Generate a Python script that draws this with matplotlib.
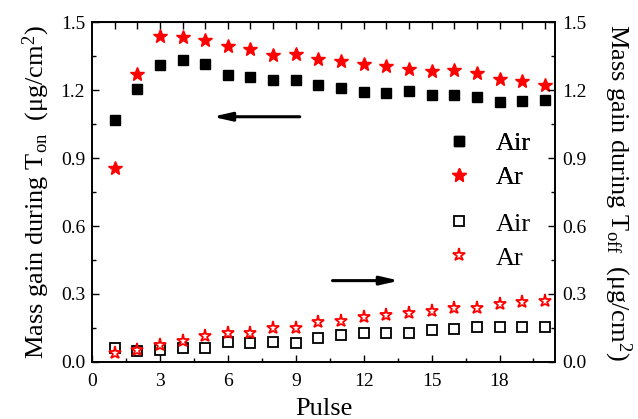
import matplotlib
matplotlib.use("Agg")
import matplotlib.pyplot as plt

plt.rcParams['font.family'] = ['Liberation Serif', 'DejaVu Serif']
plt.rcParams['mathtext.fontset'] = 'custom'
plt.rcParams['mathtext.rm'] = 'Liberation Serif'
plt.rcParams['mathtext.it'] = 'Liberation Serif:italic'

pulse = list(range(1, 21))
air_on = [1.068, 1.203, 1.309, 1.331, 1.316, 1.265, 1.256, 1.244, 1.244, 1.222,
          1.207, 1.190, 1.186, 1.194, 1.180, 1.177, 1.168, 1.149, 1.153, 1.156]
ar_on = [0.854, 1.271, 1.438, 1.435, 1.421, 1.394, 1.379, 1.356, 1.359, 1.335,
         1.330, 1.313, 1.307, 1.293, 1.285, 1.288, 1.276, 1.247, 1.241, 1.222]
air_off = [0.060, 0.050, 0.053, 0.060, 0.063, 0.090, 0.085, 0.090, 0.085, 0.104,
           0.119, 0.129, 0.126, 0.126, 0.141, 0.146, 0.156, 0.156, 0.156, 0.156]
ar_off = [0.038, 0.053, 0.073, 0.094, 0.115, 0.126, 0.126, 0.150, 0.150, 0.175,
          0.181, 0.197, 0.206, 0.218, 0.224, 0.237, 0.238, 0.256, 0.265, 0.270]

xticks = [0, 3, 6, 9, 12, 15, 18]
yticks = [0.0, 0.3, 0.6, 0.9, 1.2, 1.5]

fig = plt.figure(figsize=(6.38, 4.19), dpi=100)
ax = fig.add_axes([92/638, 1 - 362/419, (555-92)/638, (362-22)/419])
ax2 = ax.twinx()

h1, = ax.plot(pulse, air_on, 's', color='black', ms=7.2, mec='black', label='Air')
h2, = ax.plot(pulse, ar_on, '*', color='red', ms=10, mec='red', label='Ar')
h3, = ax2.plot(pulse, air_off, 's', mfc='white', mec='black', ms=6.5, mew=1.3, label='Air')
h4, = ax2.plot(pulse, ar_off, '*', mfc='white', mec='red', ms=9.5, mew=1.3, label='Ar')

for a in (ax, ax2):
    a.set_xlim(0, 20.45)
    a.set_ylim(0, 1.5)
    a.set_yticks(yticks)
    a.set_yticks([0.15, 0.45, 0.75, 1.05, 1.35], minor=True)
    a.set_yticklabels([f"{v:.1f}" for v in yticks])
    a.tick_params(axis='y', which='both', direction='in', labelsize=14, pad=5)
    a.tick_params(axis='y', which='major', length=5, width=1)
    a.tick_params(axis='y', which='minor', length=3, width=1)
    for s in a.spines.values():
        s.set_linewidth(1.2)

ax.set_xticks(xticks)
ax.set_xticks([1.5, 4.5, 7.5, 10.5, 13.5, 16.5, 19.5], minor=True)
ax.tick_params(axis='x', which='both', direction='in', labelsize=14, top=False, pad=8)
ax.tick_params(axis='x', which='major', length=5, width=1)
ax.tick_params(axis='x', which='minor', length=3, width=1)

top = ax.secondary_xaxis('top')
top.set_xticks(pulse)
top.set_xticklabels([])
top.tick_params(axis='x', which='major', direction='in', length=5, width=1)
top.tick_params(axis='x', which='minor', length=0)

ax.set_xlabel('Pulse', fontsize=19, labelpad=6)
ax.set_ylabel(r'Mass gain during T$_{\mathregular{on}}$  ($\mathregular{\mu}$g/cm$^{\mathregular{2}}$)',
              fontsize=19, labelpad=6)
ax2.set_ylabel(r'Mass gain during T$_{\mathregular{off}}$  ($\mathregular{\mu}$g/cm$^{\mathregular{2}}$)',
               fontsize=19, rotation=270, labelpad=34)

leg_kw = dict(frameon=False, fontsize=19, handletextpad=0.9, labelspacing=0.4,
              handlelength=1.0, borderpad=0.4, loc='center left')
leg1 = ax.legend(handles=[h1, h2], bbox_to_anchor=(0.713, 0.593), **leg_kw)
ax.add_artist(leg1)
ax2.legend(handles=[h3, h4], bbox_to_anchor=(0.713, 0.356), **leg_kw)

ax.annotate('', xy=(5.2, 1.082), xytext=(9.3, 1.082),
            arrowprops=dict(arrowstyle='-|>,head_length=1.1,head_width=0.25', color='black', lw=2.2))
ax.annotate('', xy=(13.7, 0.359), xytext=(10.5, 0.359),
            arrowprops=dict(arrowstyle='-|>,head_length=1.1,head_width=0.25', color='black', lw=2.2))

fig.savefig('out.png', dpi=100)
